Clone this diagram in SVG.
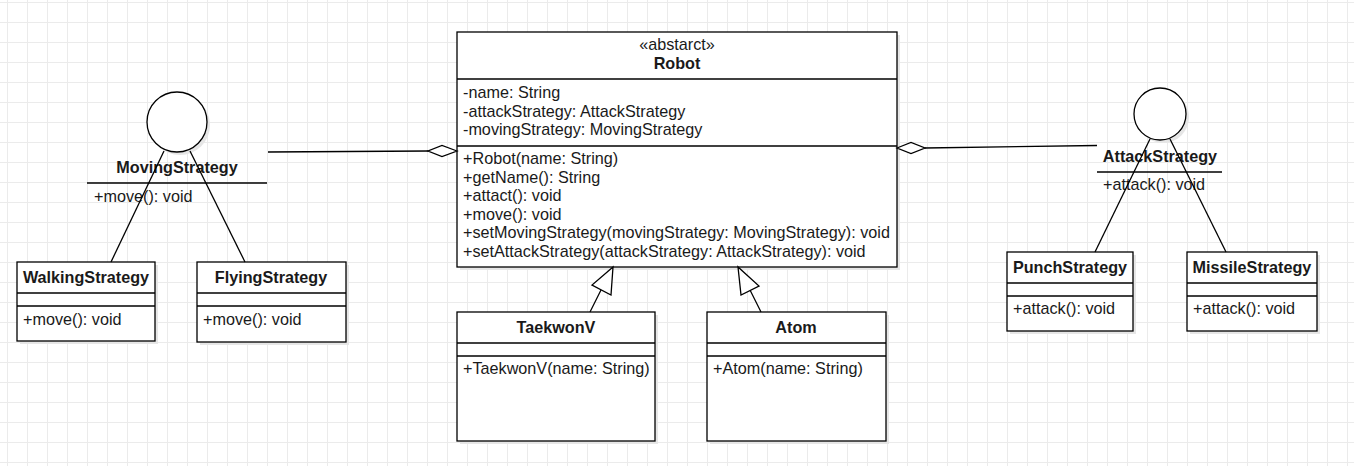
<svg xmlns="http://www.w3.org/2000/svg" width="1354" height="466" viewBox="0 0 1354 466">
<defs>
<pattern id="grid" x="7" y="2" width="20" height="20" patternUnits="userSpaceOnUse">
<path d="M0 0.5 H20 M0.5 0 V20" fill="none" stroke="#ebebeb" stroke-width="1"/>
</pattern>
<style>
.box{fill:#fff;stroke:#000;stroke-width:1.3}
.sh{fill:#e6e6e6;stroke:none}
.div{stroke:#000;stroke-width:1.3}
.t{font-family:"Liberation Sans",Arial,sans-serif;font-size:16.2px;fill:#1a1a1a}
.b{font-weight:bold;text-anchor:middle}
.c{text-anchor:middle}
.ln{fill:none;stroke:#000;stroke-width:1.3}
.dm{fill:#fff;stroke:#000;stroke-width:1.3}
</style>
</defs>
<rect width="1354" height="466" fill="#fff"/>
<rect width="1354" height="466" fill="url(#grid)"/>

<g id="Robot">
<rect class="sh" x="460" y="35" width="440" height="235"/>
<rect class="box" x="457" y="32" width="440" height="235"/>
<line class="div" x1="457" y1="79" x2="897" y2="79"/>
<line class="div" x1="457" y1="146" x2="897" y2="146"/>
<text class="t c" x="677" y="50">«abstarct»</text>
<text class="t b" x="677" y="69">Robot</text>
<text class="t" x="463" y="98">-name: String</text>
<text class="t" x="463" y="117">-attackStrategy: AttackStrategy</text>
<text class="t" x="463" y="135">-movingStrategy: MovingStrategy</text>
<text class="t" x="463" y="164">+Robot(name: String)</text>
<text class="t" x="463" y="183">+getName(): String</text>
<text class="t" x="463" y="201">+attact(): void</text>
<text class="t" x="463" y="220">+move(): void</text>
<text class="t" x="463" y="238">+setMovingStrategy(movingStrategy: MovingStrategy): void</text>
<text class="t" x="463" y="257">+setAttackStrategy(attackStrategy: AttackStrategy): void</text>
</g>

<g id="MovingStrategy">
<circle class="sh" cx="180" cy="125" r="30"/>
<circle class="box" cx="177" cy="122" r="30"/>
<text class="t b" x="177" y="173">MovingStrategy</text>
<line class="div" x1="87" y1="183" x2="267" y2="183"/>
<text class="t" x="94" y="202">+move(): void</text>
</g>

<g id="AttackStrategy">
<circle class="sh" cx="1163" cy="117" r="26"/>
<circle class="box" cx="1160" cy="114" r="26"/>
<text class="t b" x="1160" y="162">AttackStrategy</text>
<line class="div" x1="1097" y1="172" x2="1222" y2="172"/>
<text class="t" x="1103" y="190">+attack(): void</text>
</g>

<g id="WalkingStrategy">
<rect class="sh" x="20" y="265" width="138" height="79"/>
<rect class="box" x="17" y="262" width="138" height="79"/>
<line class="div" x1="17" y1="293" x2="155" y2="293"/>
<line class="div" x1="17" y1="306" x2="155" y2="306"/>
<text class="t b" x="86" y="283">WalkingStrategy</text>
<text class="t" x="23" y="325">+move(): void</text>
</g>

<g id="FlyingStrategy">
<rect class="sh" x="200" y="265" width="149" height="80"/>
<rect class="box" x="197" y="262" width="149" height="80"/>
<line class="div" x1="197" y1="293" x2="346" y2="293"/>
<line class="div" x1="197" y1="306" x2="346" y2="306"/>
<text class="t b" x="271" y="283">FlyingStrategy</text>
<text class="t" x="203" y="325">+move(): void</text>
</g>

<g id="PunchStrategy">
<rect class="sh" x="1010" y="255" width="126" height="79"/>
<rect class="box" x="1007" y="252" width="126" height="79"/>
<line class="div" x1="1007" y1="283" x2="1133" y2="283"/>
<line class="div" x1="1007" y1="296" x2="1133" y2="296"/>
<text class="t b" x="1070" y="273">PunchStrategy</text>
<text class="t" x="1013" y="314">+attack(): void</text>
</g>

<g id="MissileStrategy">
<rect class="sh" x="1190" y="255" width="130" height="79"/>
<rect class="box" x="1187" y="252" width="130" height="79"/>
<line class="div" x1="1187" y1="283" x2="1317" y2="283"/>
<line class="div" x1="1187" y1="296" x2="1317" y2="296"/>
<text class="t b" x="1252" y="273">MissileStrategy</text>
<text class="t" x="1193" y="314">+attack(): void</text>
</g>

<g id="TaekwonV">
<rect class="sh" x="460" y="315" width="198" height="129"/>
<rect class="box" x="457" y="312" width="198" height="129"/>
<line class="div" x1="457" y1="343" x2="655" y2="343"/>
<line class="div" x1="457" y1="356" x2="655" y2="356"/>
<text class="t b" x="556" y="333">TaekwonV</text>
<text class="t" x="463" y="374">+TaekwonV(name: String)</text>
</g>

<g id="Atom">
<rect class="sh" x="710" y="315" width="179" height="129"/>
<rect class="box" x="707" y="312" width="179" height="129"/>
<line class="div" x1="707" y1="343" x2="886" y2="343"/>
<line class="div" x1="707" y1="356" x2="886" y2="356"/>
<text class="t b" x="796" y="333">Atom</text>
<text class="t" x="713" y="374">+Atom(name: String)</text>
</g>

<g id="connectors">
<line class="ln" x1="164" y1="151" x2="111" y2="262"/>
<line class="ln" x1="190" y1="151" x2="245" y2="262"/>
<line class="ln" x1="1150" y1="139" x2="1095" y2="252"/>
<line class="ln" x1="1170" y1="139" x2="1226" y2="252"/>
<line class="ln" x1="268" y1="152" x2="428" y2="151"/>
<polygon class="dm" points="457,151 442,145.5 428,151 442,156.5"/>
<line class="ln" x1="925" y1="148" x2="1097" y2="145.5"/>
<polygon class="dm" points="897,148 911,142.5 925,148 911,153.5"/>
<line class="ln" x1="590" y1="312" x2="601" y2="290"/>
<polygon class="dm" points="613,267 592,285 611,295"/>
<line class="ln" x1="761" y1="312" x2="750" y2="290"/>
<polygon class="dm" points="738,267 741,295 759,286"/>
</g>
</svg>
